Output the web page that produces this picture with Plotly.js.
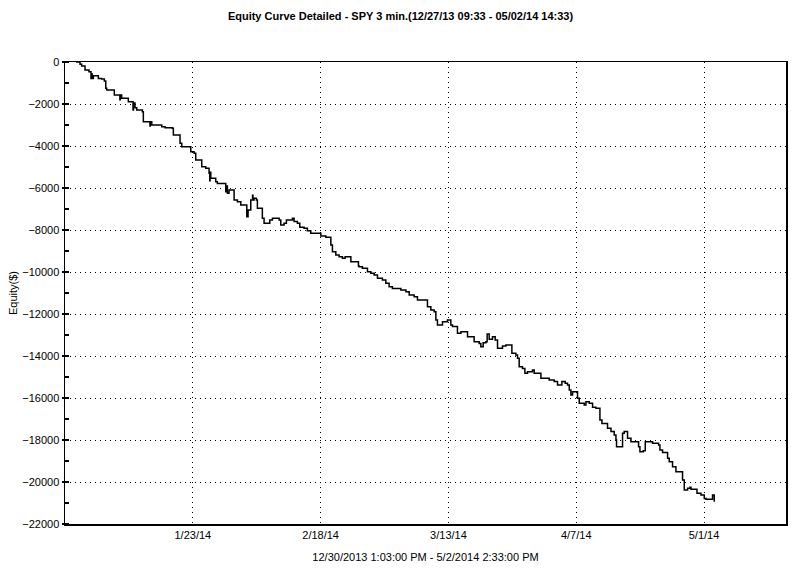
<!DOCTYPE html>
<html>
<head>
<meta charset="utf-8">
<script src="https://cdn.plot.ly/plotly-3.0.1.min.js"></script>
<style>
  html, body { margin: 0; padding: 0; background: #ffffff; }
  #chart { width: 801px; height: 574px; }
</style>
</head>
<body>
<div id="chart"></div>
<script>
// x = trading-day index from 12/27/13 09:33 (session start), y = equity in $
var tradeDay = [
  1.46, 2.00, 2.22, 2.66, 3.19, 3.46, 3.55, 3.60, 3.77, 4.30, 4.43, 4.88, 5.23, 5.42, 5.55, 6.21, 6.56, 7.09,
  7.30, 7.35, 7.54, 8.42, 9.05, 9.10, 9.31, 9.54, 10.29, 10.42, 11.08, 11.30, 11.35, 11.54, 12.20, 12.87, 13.31, 14.28, 14.41, 15.08,
  15.30, 15.53, 16.19, 16.27, 16.73, 17.17, 17.39, 17.83, 18.19, 18.72, 19.16, 19.25, 19.30, 19.39, 20.05,
  20.27, 21.16, 21.38, 21.55, 21.60, 21.82, 22.18, 22.49, 22.93, 23.15, 23.38, 23.82, 24.18, 24.35, 24.71,
  24.95, 25.00, 25.15, 25.46, 25.59, 26.04, 26.25, 26.48, 26.92, 27.24, 27.59, 28.04, 28.48, 28.70, 29.14,
  29.45, 30.25, 30.47, 30.91, 31.23, 31.80, 32.24, 32.69, 33.36, 34.03, 34.69, 35.13, 35.36,
  35.57, 36.02, 36.46, 36.90, 37.26, 37.79, 38.02, 38.68, 39.03, 39.12, 39.56, 40.23, 40.68,
  41.12, 41.56, 42.22, 42.67, 43.11, 43.55, 44.22, 44.67, 45.34, 45.78, 46.44, 46.88, 48.00,
  48.21, 48.66, 49.10, 49.33, 49.54, 49.99, 50.21, 50.87, 51.32, 51.54, 51.99, 52.20, 52.66,
  53.32, 53.54, 54.20, 54.42, 55.09, 55.31, 55.62, 55.98, 56.15, 56.42, 56.86, 57.22, 57.53,
  58.11, 58.19, 58.64, 59.31, 59.44, 59.97, 60.19, 60.41, 60.85, 61.17, 61.52, 62.18, 62.41,
  63.07, 63.30, 64.18, 64.40, 65.07, 65.51, 66.09, 66.53, 66.84, 67.07, 67.29, 67.51, 67.96,
  68.17, 68.40, 69.06, 69.29, 69.73, 70.17, 70.62, 70.97, 71.15, 71.42, 71.95, 72.16, 72.62,
  73.05, 73.28, 73.36, 73.94, 74.16, 74.38, 74.82, 75.28, 75.94, 76.29, 76.47, 76.91, 77.18,
  77.71, 78.15, 78.95, 79.13, 79.48, 80.07, 80.15, 80.37, 80.81, 81.26, 81.93, 82.14, 82.37,
  82.81, 83.13, 83.26, 83.93, 84.06, 84.59, 85.03, 85.26, 85.92, 86.13, 86.36
];
var equity = [
  0, -110, -190, -380, -460, -780, -560, -780, -650, -650, -780, -810, -900, -1250, -1330, -1330, -1570, -1570,
  -1800, -1570, -1730, -1890, -2290, -1950, -2180, -2290, -2370, -2840, -2840, -3050, -2840, -3000, -3000, -3080, -3130, -3160, -3480, -3480,
  -3870, -4030, -4030, -4030, -4270, -4350, -4670, -4670, -4990, -5060, -5300, -5650, -5250, -5540, -5700,
  -5780, -5780, -6180, -5900, -6250, -6100, -6100, -6570, -6650, -6650, -6810, -6810, -7370, -7050, -6570,
  -6350, -6570, -6490, -6570, -6970, -6970, -7440, -7680, -7680, -7520, -7440, -7440, -7520, -7760, -7680,
  -7520, -7440, -7600, -7680, -7870, -7920, -8030, -8160, -8160, -8290, -8350, -8350, -8710,
  -9030, -9190, -9270, -9350, -9270, -9270, -9510, -9510, -9710, -9750, -9820, -9990, -10060,
  -10140, -10300, -10380, -10540, -10700, -10780, -10780, -10860, -10940, -11100, -11180, -11330, -11330,
  -11650, -11810, -11890, -12290, -12520, -12520, -12370, -12290, -12520, -12600, -12600, -12920, -12840,
  -12840, -13080, -13080, -13320, -13400, -13560, -13370, -13320, -12950, -13200, -13080, -13240, -13630,
  -13630, -13520, -13480, -13480, -13870, -13950, -14110, -14510, -14590, -14820, -14750, -14670, -14820,
  -14820, -15060, -15060, -15140, -15220, -15380, -15220, -15300, -15380, -15620, -15860, -15700, -15700,
  -16010, -16250, -16330, -16180, -16250, -16440, -16490, -16490, -17050, -17210, -17210, -17440, -17600,
  -17760, -18000, -18320, -18320, -17680, -17600, -17920, -18080, -18080, -18320, -18560, -18510, -18080,
  -18080, -18160, -18240, -18480, -18600, -18600, -18870, -19030, -19270, -19510, -19510, -19910, -20380,
  -20300, -20250, -20350, -20350, -20540, -20620, -20780, -20820, -20820, -20620, -20940
];
var dateTickVals = [17, 34, 51, 68, 85];
var dateTickText = ['1/23/14', '2/18/14', '3/13/14', '4/7/14', '5/1/14'];

var FONT = 'Liberation Sans, Arial, sans-serif';

var trace = {
  x: tradeDay,
  y: equity,
  type: 'scatter',
  mode: 'lines',
  line: { color: '#000000', width: 1.5, shape: 'hv' },
  hoverinfo: 'skip'
};

var layout = {
  width: 801,
  height: 574,
  paper_bgcolor: '#ffffff',
  plot_bgcolor: '#ffffff',
  showlegend: false,
  margin: { l: 65, r: 15, t: 62, b: 50, pad: 0 },
  font: { family: FONT, size: 11, color: '#000000' },
  title: {
    text: '<b>Equity Curve Detailed - SPY 3 min.(12/27/13 09:33 - 05/02/14 14:33)</b>',
    font: { family: FONT, size: 11, color: '#000000' },
    x: 0.5, xanchor: 'center', y: 0.971, yanchor: 'middle'
  },
  xaxis: {
    range: [0, 95.9],
    tickmode: 'array',
    tickvals: dateTickVals,
    ticktext: dateTickText,
    ticks: '',
    showgrid: true,
    gridcolor: '#000000',
    griddash: '1px,4px',
    gridwidth: 1,
    showline: true,
    linecolor: '#000000',
    linewidth: 1.5,
    mirror: true,
    zeroline: false,
    tickfont: { family: FONT, size: 11, color: '#000000' },
    title: {
      text: '12/30/2013 1:03:00 PM - 5/2/2014 2:33:00 PM',
      font: { family: FONT, size: 11, color: '#000000' },
      standoff: 13
    }
  },
  yaxis: {
    range: [-22000, 0],
    dtick: 2000,
    tick0: 0,
    ticks: 'outside',
    ticklen: 2,
    tickwidth: 1.5,
    tickcolor: '#000000',
    showgrid: true,
    gridcolor: '#000000',
    griddash: '1px,4px',
    gridwidth: 1,
    showline: true,
    linecolor: '#000000',
    linewidth: 1.5,
    mirror: true,
    zeroline: false,
    automargin: true,
    tickformat: 'd',
    tickfont: { family: FONT, size: 11, color: '#000000' },
    minor: { dtick: 1000, ticks: 'inside', ticklen: 4, tickwidth: 1.5, tickcolor: '#000000', showgrid: false },
    title: {
      text: 'Equity($)',
      font: { family: FONT, size: 11, color: '#000000' },
      standoff: 2
    }
  }
};

Plotly.newPlot('chart', [trace], layout, { staticPlot: true, displayModeBar: false });
</script>
</body>
</html>
